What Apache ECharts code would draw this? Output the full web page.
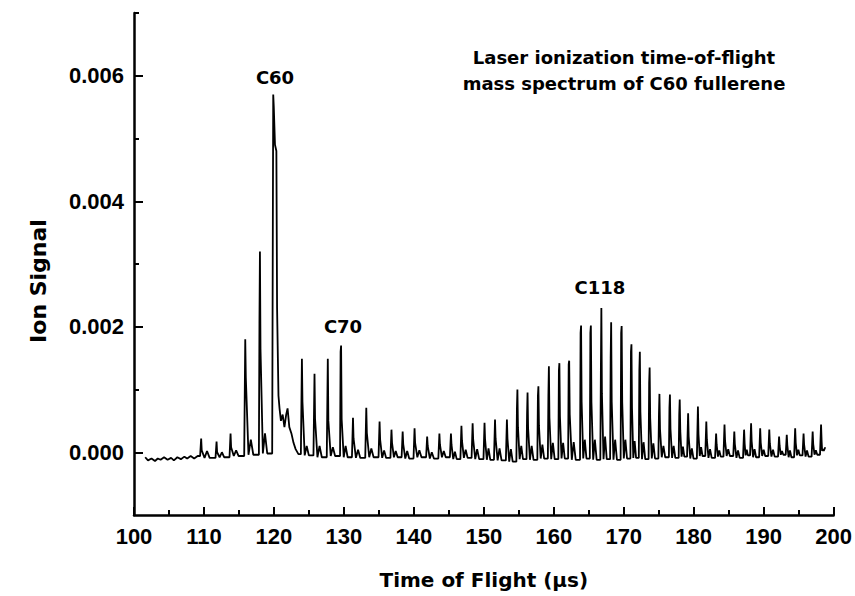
<!DOCTYPE html>
<html>
<head>
<meta charset="utf-8">
<title>C60 TOF mass spectrum</title>
<script src="https://cdn.jsdelivr.net/npm/echarts@6.0.0/dist/echarts.min.js"></script>
<style>
  html, body { margin: 0; padding: 0; background: #fff; }
  #chart { width: 855px; height: 596px; }
</style>
</head>
<body>
<div id="chart"></div>
<script>
// baseline before the first peaks (time in us, signal)
var startTimes  = [101.6, 102.0, 102.5, 103.0, 103.4, 103.8, 104.3, 104.8, 105.3, 105.7, 106.2, 106.7, 107.2, 107.6, 108.1, 108.6, 109.1];
var startValues = [-0.00008, -0.00013, -0.0001, -0.00014, -0.0001, -0.00012, -0.00008, -0.00012, -0.00009, -0.00013, -0.00008, -0.00011, -0.00007, -0.0001, -0.00006, -0.0001, -0.00006];

// peaks
var peakTimes = [109.6, 111.8, 113.8, 115.9, 118.0, 119.9,
  124.0, 125.8, 127.7, 129.6,
  131.3, 133.2, 135.1, 136.8, 138.4, 140.1, 141.9, 143.65, 145.3, 146.8, 148.4, 150.1,
  151.6, 153.3, 154.8, 156.25, 157.8, 159.3, 160.8, 162.2,
  163.9, 165.3, 166.8, 168.2, 169.7, 171.1, 172.3, 173.7,
  175.1, 176.6, 178.0, 179.2, 180.6, 181.8, 183.2, 184.4,
  185.8, 187.2, 188.2, 189.5, 190.8, 192.2, 193.3, 194.5, 195.7, 197.0, 198.2];
var peakHeights = [0.00022, 0.00017, 0.0003, 0.0018, 0.0032, 0.0057,
  0.00149, 0.00125, 0.00149, 0.0017,
  0.00055, 0.00071, 0.00049, 0.00036, 0.00033, 0.00038, 0.00025, 0.0003, 0.0003, 0.00042, 0.00046, 0.00047,
  0.00052, 0.00052, 0.001, 0.00095, 0.00105, 0.00137, 0.00142, 0.00146,
  0.00202, 0.00202, 0.0023, 0.00207, 0.00201, 0.00172, 0.0016, 0.00135,
  0.00093, 0.00092, 0.00084, 0.00062, 0.00073, 0.00049, 0.0003, 0.00044,
  0.00033, 0.00036, 0.00046, 0.00038, 0.00036, 0.00025, 0.00028, 0.00038, 0.0003, 0.00033, 0.00044];
// shoulder just before the top (null = none)
var peakPre = [null, null, null, null, 0.00205, 0.0031, null, null, null, 0.0016,
  null, null, null, null, null, null, null, null, null, null, null, null,
  null, null, 0.00069, 0.0006, 0.0009, 0.0009, 0.0013, 0.0014,
  0.0019, 0.0019, 0.0013, 0.0015, 0.0019, 0.0016, 0.0013, 0.0011,
  0.0006, 0.0007, 0.0006, null, null, null, null, null,
  null, null, null, null, null, null, null, null, null, null, null];
// level just after the top
var peakTail = [0.00003, 0.0, 0.00008, 0.0012, 0.00165, 0.0055,
  0.0008, 0.00053, 0.0005, 0.00053,
  0.00022, 0.00031, 0.0002, 0.00015, 0.00013, 0.00015, 0.0001, 0.00012, 0.00012, 0.00018, 0.0002, 0.0002,
  0.00022, 0.00022, 0.0004, 0.00038, 0.00042, 0.00055, 0.00057, 0.0006,
  0.0008, 0.0008, 0.00093, 0.0008, 0.0008, 0.0007, 0.00064, 0.00054,
  0.00037, 0.00037, 0.00034, 0.00025, 0.00029, 0.0002, 0.00012, 0.00018,
  0.00013, 0.00014, 0.00018, 0.00015, 0.00014, 0.0001, 0.00011, 0.00015, 0.00012, 0.00013, 0.00018];
// small bump in the gap after each peak
var peakBump = [0.00002, 0.0, 0.00003, 0.0002, 0.0003, null,
  0.0001, 0.0001, 0.00008, 0.0001,
  0.00004, 0.00006, 0.00003, 0.00002, 0.00002, 0.00003, 0.0, 0.00002, 0.00001, 0.00004, 0.00005, 0.00006,
  0.00006, 0.00005, 0.0001, 0.0001, 0.00012, 0.00015, 0.00015, 0.00016,
  0.0002, 0.0002, 0.00025, 0.0002, 0.0002, 0.00018, 0.00016, 0.00014,
  0.0001, 0.0001, 0.00009, 0.00006, 0.00008, 0.00005, 0.00003, 0.00005,
  0.00003, 0.00004, 0.00005, 0.00004, 0.00004, 0.00002, 0.00003, 0.00004, 0.00003, 0.00003, 0.00005];
// minimum between a peak and the next one (null = see C60 tail below)
var peakValley = [-0.00009, -0.00008, -0.00006, -0.00004, -0.00002, null,
  -0.00005, -0.00008, -0.00006, -0.00008,
  -0.00009, -0.00008, -0.00009, -0.00008, -0.0001, -0.00008, -0.0001, -0.00008, -0.00011, -0.00009, -0.00011, -0.00012,
  -0.00013, -0.00015, -0.00011, -0.00012, -0.0001, -0.00011, -0.0001, -0.00012,
  -0.0001, -0.00012, -0.00011, -0.00012, -0.0001, -0.00009, -0.00011, -0.0001,
  -0.00008, -0.00009, -0.00007, -0.0001, -0.00006, -0.00009, -0.00007, -0.00006,
  -0.00009, -0.00005, -0.00008, -0.00006, -0.00007, -0.00004, -0.00008, -0.00005, -0.00007, -0.00004, 0.00002];

// the broad tail of the C60 peak
var c60TailTimes  = [120.15, 120.35, 120.45, 120.65, 120.8, 121.0, 121.25, 121.5, 121.75, 121.95, 122.2, 122.5, 122.8, 123.1, 123.5];
var c60TailValues = [0.0049, 0.0048, 0.0023, 0.0009, 0.0007, 0.0005, 0.0006, 0.0004, 0.0006, 0.0007, 0.0004, 0.0003, 0.00015, 0.00005, -0.00003];

var endPoint = [198.8, 0.00008];

var yTicks = [0, 0.002, 0.004, 0.006];
var yMinorTicks = [0.001, 0.003, 0.005, 0.007];

// build the trace
var pts = [];
for (var i = 0; i < startTimes.length; i++) pts.push([startTimes[i], startValues[i]]);
for (var i = 0; i < c60TailTimes.length; i++) pts.push([c60TailTimes[i], c60TailValues[i]]);
for (var i = 0; i < peakTimes.length; i++) {
  var t = peakTimes[i];
  var prev;
  if (i == 0) prev = startValues[startValues.length - 1];
  else if (peakValley[i - 1] == null) prev = c60TailValues[c60TailValues.length - 1];
  else prev = peakValley[i - 1];
  pts.push([t - 0.15, prev]);
  if (peakPre[i] != null) pts.push([t - 0.07, peakPre[i]]);
  pts.push([t, peakHeights[i]]);
  pts.push([t + 0.08, peakTail[i]]);
  if (peakValley[i] != null) {
    var next = i < peakTimes.length - 1 ? peakTimes[i + 1] : t + 0.7;
    var gap = next - t;
    pts.push([t + gap * 0.22, peakValley[i]]);
    pts.push([t + gap * 0.38, peakBump[i]]);
    pts.push([t + gap * 0.55, peakValley[i]]);
  }
}
pts.push(endPoint);
pts.sort(function (a, b) { return a[0] - b[0]; });

var chart = echarts.init(document.getElementById('chart'), null, { renderer: 'svg' });

var tickFont = { color: '#000', fontFamily: 'Liberation Sans', fontWeight: 'bold', fontSize: 22 };
var noteFont = { fill: '#000', fontFamily: 'DejaVu Sans', fontWeight: 'bold', fontSize: 18 };

chart.setOption({
  animation: false,
  backgroundColor: '#fff',
  grid: { left: 134, right: 20, top: 13, bottom: 81 },
  xAxis: {
    type: 'value',
    min: 100, max: 200, interval: 10,
    name: 'Time of Flight (\u00b5s)',
    nameLocation: 'middle',
    nameGap: 55,
    nameTextStyle: { color: '#000', fontFamily: 'DejaVu Sans', fontWeight: 'bold', fontSize: 20 },
    axisLine: { onZero: false, lineStyle: { color: '#000', width: 2.5 } },
    axisTick: { inside: true, length: 8, lineStyle: { color: '#000', width: 2 } },
    minorTick: { show: true, splitNumber: 2, length: 5, lineStyle: { color: '#000', width: 2 } },
    axisLabel: Object.assign({ margin: 10 }, tickFont),
    splitLine: { show: false }
  },
  yAxis: [{
    type: 'value',
    min: -0.001, max: 0.007,
    position: 'left',
    axisLine: { show: true, onZero: false, lineStyle: { color: '#000', width: 2.5 } },
    axisTick: { show: true, inside: true, length: 9, customValues: yTicks, lineStyle: { color: '#000', width: 2 } },
    axisLabel: Object.assign({
      margin: 10,
      customValues: yTicks,
      formatter: function (v) { return v.toFixed(3); }
    }, tickFont),
    splitLine: { show: false }
  }, {
    type: 'value',
    min: -0.001, max: 0.007,
    position: 'left',
    offset: 0,
    axisLine: { show: false, onZero: false },
    axisTick: { show: true, inside: true, length: 5, customValues: yMinorTicks, lineStyle: { color: '#000', width: 2 } },
    axisLabel: { show: false },
    splitLine: { show: false }
  }],
  graphic: [
    { type: 'text', x: 38, y: 281, rotation: Math.PI / 2,
      style: { text: 'Ion Signal', fill: '#000', fontFamily: 'DejaVu Sans', fontWeight: 'bold', fontSize: 22, textAlign: 'center', textVerticalAlign: 'middle' } },
    { type: 'text', x: 624, y: 70,
      style: Object.assign({ text: 'Laser ionization time-of-flight\nmass spectrum of C60 fullerene', textAlign: 'center', textVerticalAlign: 'middle', lineHeight: 26 }, noteFont) },
    { type: 'text', x: 275, y: 77, style: Object.assign({ text: 'C60', textAlign: 'center', textVerticalAlign: 'middle' }, noteFont) },
    { type: 'text', x: 343, y: 326, style: Object.assign({ text: 'C70', textAlign: 'center', textVerticalAlign: 'middle' }, noteFont) },
    { type: 'text', x: 600, y: 287, style: Object.assign({ text: 'C118', textAlign: 'center', textVerticalAlign: 'middle' }, noteFont) }
  ],
  series: [{
    type: 'line',
    data: pts,
    xAxisIndex: 0,
    yAxisIndex: 0,
    showSymbol: false,
    symbol: 'none',
    sampling: null,
    lineStyle: { color: '#000', width: 1.8 },
    silent: true
  }]
});
</script>
</body>
</html>
